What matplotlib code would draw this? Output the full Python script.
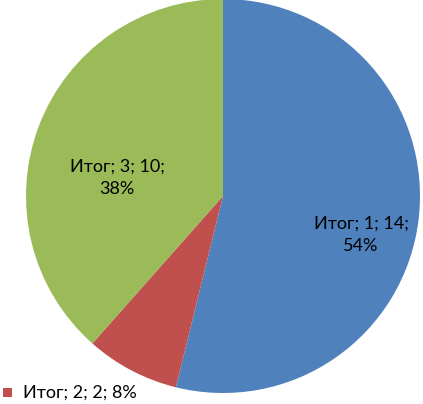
import matplotlib
matplotlib.use("Agg")
import matplotlib.pyplot as plt
from matplotlib.patches import Rectangle

categories = ["1", "2", "3"]
values = [14, 2, 10]
series_name = "Итог"
colors = ["#4F81BD", "#C0504D", "#9BBB59"]

W, H = 423, 404
fig = plt.figure(figsize=(W / 100, H / 100), dpi=100)
ax = fig.add_axes([0, 0, 1, 1])

cx, cy, r = 223, 404 - 196, 197
wedges, _ = ax.pie(values, colors=colors, startangle=90, counterclock=False,
                   center=(cx, cy), radius=r, frame=True,
                   wedgeprops=dict(linewidth=0))
ax.set_xlim(0, W)
ax.set_ylim(0, H)
ax.set_aspect("equal")
ax.axis("off")

total = sum(values)
pcts = [round(v / total * 100) for v in values]
font = dict(fontsize=13, family="Lato", color="black")

ax.text(361, 404 - 235, f"{series_name}; {categories[0]}; {values[0]};\n{pcts[0]}%",
        ha="center", va="center", linespacing=1.5, **font)
ax.text(117, 404 - 178, f"{series_name}; {categories[2]}; {values[2]};\n{pcts[2]}%",
        ha="center", va="center", linespacing=1.5, **font)
ax.add_patch(Rectangle((3, 404 - 397), 9, 9, color=colors[1], lw=0))
ax.text(23, 404 - 393, f"{series_name}; {categories[1]}; {values[1]}; {pcts[1]}%",
        ha="left", va="center", **font)

fig.savefig("out.png", dpi=100)
